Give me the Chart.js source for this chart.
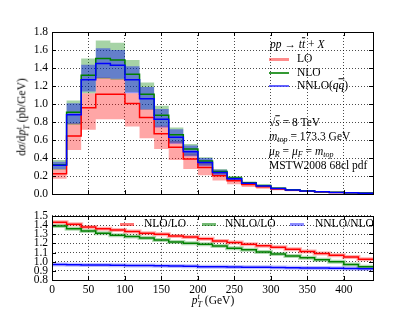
<!DOCTYPE html>
<html>
<head>
<meta charset="utf-8">
<script src="https://cdn.jsdelivr.net/npm/chart.js@4.4.0/dist/chart.umd.min.js"></script>
<style>
html, body { margin: 0; padding: 0; background: #fff; }
#wrap { position: relative; width: 415px; height: 312px; overflow: hidden;
  font-family: "Liberation Serif", serif; font-size: 11.5px; color: #000; }
canvas { position: absolute; left: 0; }
.t { position: absolute; white-space: nowrap; line-height: 1; transform: translateY(-50%); }
.ln { position: absolute; width: 20px; height: 0; }
.ov { text-decoration: overline; }
sub { font-size: 70%; line-height: 0; vertical-align: -0.25em; }
.ss { display: inline-flex; flex-direction: column; vertical-align: middle; font-size: 70%; line-height: 0.95; }
</style>
</head>
<body>
<div id="wrap">
  <canvas id="topChart" width="415" height="205" style="top:0"></canvas>
  <canvas id="ratioChart" width="415" height="107" style="top:205px"></canvas>

  <!-- top legend -->
  <div class="t" style="left:270px;top:45px"><i>pp</i> &rarr; <i>t</i><i class="ov">t</i> + <i>X</i></div>
  <div class="ln" style="left:269px;top:58px;border-top:3px solid rgba(255,0,0,0.45)"></div>
  <div class="t" style="left:297px;top:59px">LO</div>
  <div class="ln" style="left:269px;top:72px;border-top:2px solid rgba(0,128,0,0.8)"></div>
  <div class="t" style="left:297px;top:72.5px">NLO</div>
  <div class="ln" style="left:269px;top:85px;border-top:2px solid rgba(60,60,255,0.8)"></div>
  <div class="t" style="left:297px;top:86px">NNLO(<i>q</i><i class="ov">q</i>)</div>

  <div class="t" style="left:269px;top:123px">&radic;<span class="ov"><i>s</i></span> = 8 TeV</div>
  <div class="t" style="left:269px;top:137px"><i>m</i><sub><i>top</i></sub> = 173.3 GeV</div>
  <div class="t" style="left:269px;top:152px"><i>&mu;</i><sub><i>R</i></sub> = <i>&mu;</i><sub><i>F</i></sub> = <i>m</i><sub><i>top</i></sub></div>
  <div class="t" style="left:269px;top:166px">MSTW2008 68cl pdf</div>

  <!-- ratio legend -->
  <div class="ln" style="left:120px;top:223px;width:14px;border-top:3px solid rgba(255,0,0,0.55)"></div>
  <div class="t" style="left:144px;top:224px">NLO/LO</div>
  <div class="ln" style="left:202px;top:223px;width:14px;border-top:3px solid rgba(0,128,0,0.55)"></div>
  <div class="t" style="left:225px;top:224px">NNLO/LO</div>
  <div class="ln" style="left:290px;top:223px;width:14px;border-top:3px solid rgba(0,0,255,0.45)"></div>
  <div class="t" style="left:315px;top:224px">NNLO/NLO</div>

  <!-- axis titles -->
  <div class="t" style="left:23px;top:117px;transform:translate(-50%,-50%) rotate(-90deg)">d<i>&sigma;</i>/d<i>p</i><span class="ss"><i>t</i><i>T</i></span> (pb/GeV)</div>
  <div class="t" style="left:213px;top:301px;transform:translate(-50%,-50%)"><i>p</i><span class="ss"><i>t</i><i>T</i></span> (GeV)</div>
</div>

<script>
// bin edges in GeV
const binEdges = [0, 20, 40, 60, 80, 100, 120, 140, 160, 180, 200, 220, 240, 260, 280, 300, 320, 340, 360, 380, 400, 420, 440];

// top panel: dsigma/dpT (pb/GeV)
const loCentral = [0.225, 0.645, 0.96, 1.11, 1.11, 1.005, 0.85, 0.67, 0.52, 0.39, 0.295, 0.204, 0.148, 0.106, 0.081, 0.057, 0.042, 0.033, 0.0245, 0.019, 0.0145, 0.0106];
const loLow = [0.17, 0.49, 0.715, 0.83, 0.83, 0.75, 0.62, 0.50, 0.38, 0.28, 0.21, 0.15, 0.11, 0.08, 0.06, 0.043, 0.032, 0.025, 0.018, 0.014, 0.011, 0.008];
const loHigh = [0.28, 0.79, 1.12, 1.295, 1.28, 1.12, 0.945, 0.76, 0.59, 0.45, 0.35, 0.245, 0.17, 0.125, 0.095, 0.067, 0.049, 0.038, 0.029, 0.022, 0.017, 0.012];

const nloCentral = [0.325, 0.91, 1.32, 1.505, 1.49, 1.33, 1.11, 0.875, 0.66, 0.50, 0.367, 0.25, 0.18, 0.126, 0.095, 0.066, 0.048, 0.036, 0.027, 0.020, 0.015, 0.011];
const nloLow = [0.27, 0.77, 1.12, 1.28, 1.27, 1.13, 0.94, 0.75, 0.57, 0.43, 0.32, 0.22, 0.155, 0.11, 0.082, 0.057, 0.041, 0.031, 0.023, 0.017, 0.013, 0.009];
const nloHigh = [0.38, 1.04, 1.505, 1.705, 1.68, 1.49, 1.24, 0.98, 0.74, 0.555, 0.41, 0.28, 0.20, 0.14, 0.107, 0.075, 0.054, 0.041, 0.030, 0.023, 0.017, 0.012];

const nnloCentral = [0.32, 0.88, 1.27, 1.45, 1.43, 1.27, 1.06, 0.83, 0.63, 0.47, 0.35, 0.239, 0.17, 0.12, 0.09, 0.062, 0.045, 0.034, 0.025, 0.019, 0.014, 0.010];
const nnloLow = [0.28, 0.78, 1.14, 1.29, 1.28, 1.12, 0.94, 0.74, 0.56, 0.42, 0.31, 0.21, 0.15, 0.105, 0.08, 0.055, 0.04, 0.03, 0.022, 0.017, 0.012, 0.009];
const nnloHigh = [0.36, 1.01, 1.435, 1.62, 1.60, 1.42, 1.19, 0.945, 0.72, 0.54, 0.40, 0.27, 0.19, 0.135, 0.10, 0.07, 0.051, 0.038, 0.028, 0.021, 0.016, 0.011];

// ratio panel
const ratioNloLo = [1.43, 1.41, 1.38, 1.36, 1.345, 1.33, 1.31, 1.30, 1.28, 1.27, 1.25, 1.227, 1.21, 1.19, 1.175, 1.157, 1.136, 1.11, 1.09, 1.07, 1.05, 1.026];
const ratioNnloLo = [1.39, 1.36, 1.335, 1.31, 1.29, 1.275, 1.26, 1.237, 1.216, 1.20, 1.19, 1.17, 1.146, 1.13, 1.105, 1.085, 1.063, 1.043, 1.02, 1.0, 0.97, 0.945];
const ratioNnloNlo = [0.968, 0.966, 0.965, 0.963, 0.961, 0.959, 0.957, 0.955, 0.952, 0.949, 0.946, 0.944, 0.942, 0.940, 0.938, 0.936, 0.934, 0.932, 0.930, 0.928, 0.926, 0.924];

// ticks
const xTicks = [0, 50, 100, 150, 200, 250, 300, 350, 400];
const topTicks = [0.0, 0.2, 0.4, 0.6, 0.8, 1.0, 1.2, 1.4, 1.6, 1.8];
const ratioTicks = [0.8, 0.9, 1.0, 1.1, 1.2, 1.3, 1.4, 1.5];

Chart.defaults.font.family = '"Liberation Serif", serif';
Chart.defaults.font.size = 11.5;
Chart.defaults.color = '#000';

function steps(vals) {
  var pts = vals.map(function (v, i) { return {x: binEdges[i], y: v}; });
  pts.push({x: binEdges[vals.length], y: vals[vals.length - 1]});
  return pts;
}

function line(vals, color, width, order) {
  return {data: steps(vals), borderColor: color, borderWidth: width, stepped: true,
    pointRadius: 0, fill: false, order: order};
}

// lower edge first, upper edge fills down to it
function band(lo, hi, color, order) {
  return [
    {data: steps(lo), borderWidth: 0, pointRadius: 0, stepped: true, fill: false, order: order},
    {data: steps(hi), borderWidth: 0, pointRadius: 0, stepped: true, fill: '-1',
      backgroundColor: color, order: order}
  ];
}

// box round the plot area plus small inward ticks
var framePlugin = {
  id: 'frame',
  afterDraw: function (chart) {
    var ctx = chart.ctx, a = chart.chartArea, x = chart.scales.x, y = chart.scales.y;
    ctx.save();
    ctx.strokeStyle = '#000';
    ctx.lineWidth = 1;
    ctx.beginPath();
    x.ticks.forEach(function (t) {
      var px = Math.round(x.getPixelForValue(t.value)) + 0.5;
      ctx.moveTo(px, a.bottom); ctx.lineTo(px, a.bottom - 4);
      ctx.moveTo(px, a.top); ctx.lineTo(px, a.top + 4);
    });
    y.ticks.forEach(function (t) {
      var py = Math.round(y.getPixelForValue(t.value)) + 0.5;
      ctx.moveTo(a.left, py); ctx.lineTo(a.left + 4, py);
      ctx.moveTo(a.right, py); ctx.lineTo(a.right - 4, py);
    });
    ctx.stroke();
    ctx.strokeRect(Math.round(a.left) + 0.5, Math.round(a.top) + 0.5,
      Math.round(a.right - a.left), Math.round(a.bottom - a.top));
    ctx.restore();
  }
};

var gridOpts = {color: 'rgba(0,0,0,0.7)', lineWidth: 1, drawTicks: false};
var borderOpts = {display: false, dash: [1, 2]};

function xScale(showLabels, height) {
  return {
    type: 'linear', min: 0, max: 440,
    afterBuildTicks: function (s) { s.ticks = xTicks.map(function (v) { return {value: v}; }); },
    afterFit: function (s) { s.height = height; },
    grid: gridOpts, border: borderOpts,
    ticks: {display: showLabels, padding: 3, maxRotation: 0, autoSkip: false,
      callback: function (v) { return String(v); }}
  };
}

function yScale(min, max, ticks) {
  return {
    type: 'linear', min: min, max: max,
    afterBuildTicks: function (s) { s.ticks = ticks.map(function (v) { return {value: v}; }); },
    afterFit: function (s) { s.width = 52; },
    grid: gridOpts, border: borderOpts,
    ticks: {padding: 4, autoSkip: false, callback: function (v) { return Number(v).toFixed(1); }}
  };
}

var common = {
  responsive: false, animation: false, devicePixelRatio: 1,
  plugins: {legend: {display: false}, tooltip: {enabled: false}}
};

var topSets = []
  .concat(band(loLow, loHigh, 'rgba(255,0,0,0.35)', 6))
  .concat(band(nloLow, nloHigh, 'rgba(0,128,0,0.35)', 5))
  .concat(band(nnloLow, nnloHigh, 'rgba(0,0,255,0.4)', 4))
  .concat([
    line(loCentral, '#ff0000', 1.5, 3),
    line(nloCentral, '#008000', 1.5, 2),
    line(nnloCentral, '#0000ff', 1.5, 1)
  ]);

new Chart(document.getElementById('topChart'), {
  type: 'line',
  data: {datasets: topSets},
  options: Object.assign({}, common, {
    layout: {padding: {top: 32, right: 42, left: 0, bottom: 0}},
    scales: {x: xScale(false, 2), y: yScale(0, 1.8, topTicks)}
  }),
  plugins: [framePlugin]
});

new Chart(document.getElementById('ratioChart'), {
  type: 'line',
  data: {datasets: [
    line(ratioNloLo, 'rgba(255,0,0,0.3)', 4, 6),
    line(ratioNnloLo, 'rgba(0,128,0,0.3)', 4, 5),
    line(ratioNnloNlo, 'rgba(0,0,255,0.25)', 4, 4),
    line(ratioNloLo, '#ff0000', 1.5, 3),
    line(ratioNnloLo, '#008000', 1.5, 2),
    line(ratioNnloNlo, '#0000ff', 1.5, 1)
  ]},
  options: Object.assign({}, common, {
    layout: {padding: {top: 7, right: 42, left: 0, bottom: 0}},
    scales: {x: xScale(true, 32), y: yScale(0.8, 1.5, ratioTicks)}
  }),
  plugins: [framePlugin]
});
</script>
</body>
</html>
